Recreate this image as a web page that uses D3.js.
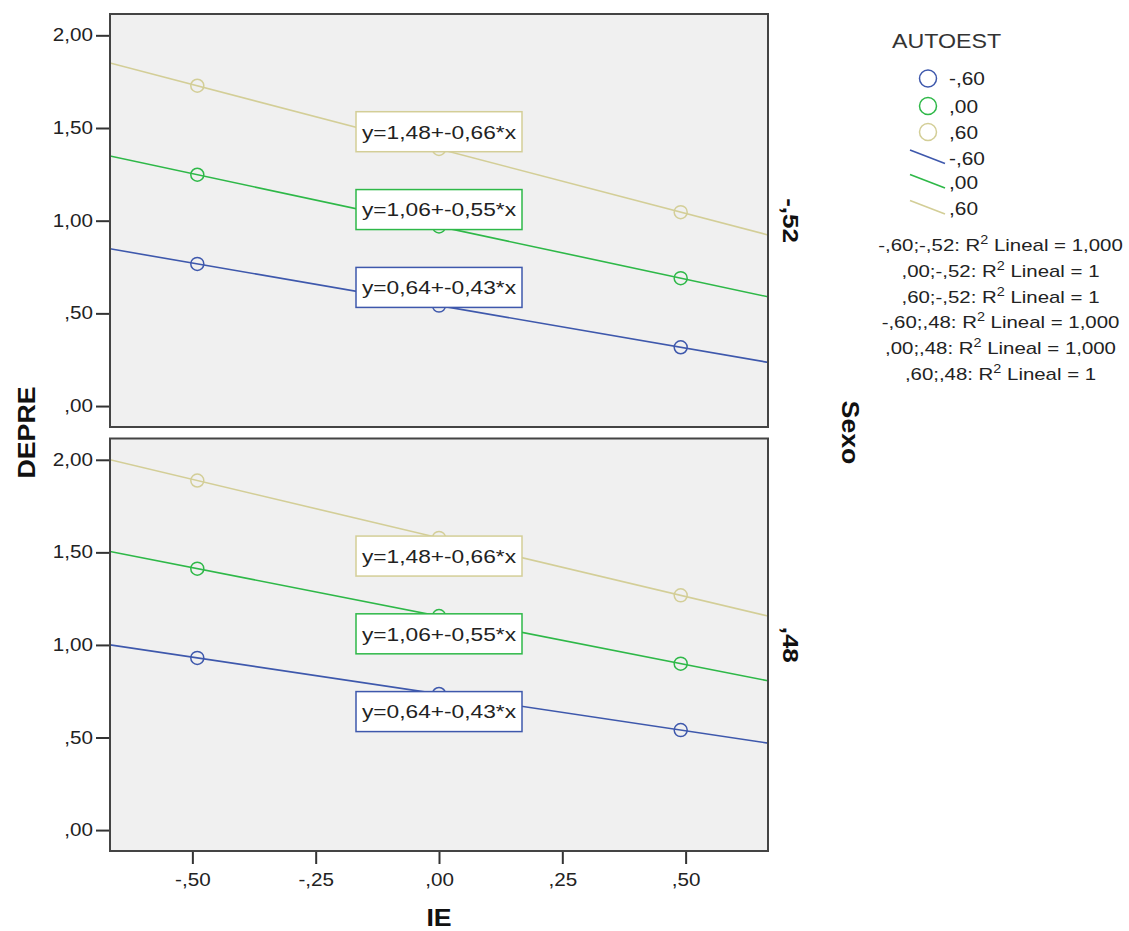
<!DOCTYPE html>
<html>
<head>
<meta charset="utf-8">
<script src="https://cdn.jsdelivr.net/npm/d3@7"></script>
<style>
  html, body { margin: 0; padding: 0; background: #fff; }
  svg { display: block; font-family: "Liberation Sans", Arial, sans-serif; }
</style>
</head>
<body>
<svg id="chart" width="1129" height="931"></svg>
<script>
// ---------- data ----------
const ieValues = [-0.49, 0.00, 0.49];                 // IE (x) values of the points
const autoestLevels = ["-,60", ",00", ",60"];         // AUTOEST groups
const sexoLevels = ["-,52", ",48"];                   // Sexo panels
// DEPRE values per AUTOEST group at each IE value
const depreSexoNeg52 = [
  [0.767, 0.542, 0.317],   // -,60
  [1.248, 0.969, 0.690],   // ,00
  [1.728, 1.387, 1.046]    // ,60
];
const depreSexo48 = [
  [0.930, 0.735, 0.540],
  [1.412, 1.156, 0.899],
  [1.888, 1.578, 1.268]
];
// fit-line equations printed in the chart (pooled)
const eqIntercepts = [0.64, 1.06, 1.48];
const eqSlopes = [-0.43, -0.55, -0.66];
const eqLabels = ["y=0,64+-0,43*x", "y=1,06+-0,55*x", "y=1,48+-0,66*x"];
const r2Labels = [
  ["-,60;-,52: R", "2", " Lineal = 1,000"],
  [",00;-,52: R", "2", " Lineal = 1"],
  [",60;-,52: R", "2", " Lineal = 1"],
  ["-,60;,48: R", "2", " Lineal = 1,000"],
  [",00;,48: R", "2", " Lineal = 1,000"],
  [",60;,48: R", "2", " Lineal = 1"]
];
const yTicks = [0, 0.5, 1.0, 1.5, 2.0];
const xTicks = [-0.5, -0.25, 0, 0.25, 0.5];
const colors = ["#3E58AC", "#2EB848", "#D3CE97"];

// ---------- helpers ----------
function fmt(v) {
  let s = d3.format(".2f")(v).replace("\u2212", "-").replace(".", ",");
  return s.replace(/^(-?)0,/, "$1,");
}
function stretch(sel, k) {
  sel.each(function () {
    const L = this.getComputedTextLength();
    this.setAttribute("textLength", L * k);
    this.setAttribute("lengthAdjust", "spacingAndGlyphs");
  });
}
function fit(xs, ys) {
  const mx = d3.mean(xs), my = d3.mean(ys);
  const b = d3.sum(xs, (x, i) => (x - mx) * (ys[i] - my)) / d3.sum(xs, x => (x - mx) * (x - mx));
  return { a: my - b * mx, b: b };
}

const svg = d3.select("#chart");
const left = 110, right = 768;
const x = d3.scaleLinear().domain([-0.667, 0.667]).range([left, right]);
const panels = [
  { data: depreSexoNeg52, strip: sexoLevels[0], top: 14, bottom: 427 },
  { data: depreSexo48, strip: sexoLevels[1], top: 438.5, bottom: 851 }
];
const yDomain = [-0.113, 2.115];

panels.forEach((p, pi) => {
  const y = d3.scaleLinear().domain(yDomain).range([p.bottom, p.top]);
  const g = svg.append("g");
  g.append("rect").attr("x", left).attr("y", p.top)
    .attr("width", right - left).attr("height", p.bottom - p.top)
    .attr("fill", "#f0f0f0");
  const clipId = "clip" + pi;
  svg.append("clipPath").attr("id", clipId).append("rect")
    .attr("x", left).attr("y", p.top).attr("width", right - left).attr("height", p.bottom - p.top);
  const plot = g.append("g").attr("clip-path", `url(#${clipId})`);

  // fit lines
  p.data.forEach((ys, gi) => {
    const f = fit(ieValues, ys);
    const x0 = x.domain()[0], x1 = x.domain()[1];
    plot.append("line")
      .attr("x1", x(x0)).attr("y1", y(f.a + f.b * x0))
      .attr("x2", x(x1)).attr("y2", y(f.a + f.b * x1))
      .attr("stroke", colors[gi]).attr("stroke-width", 1.6);
  });
  // points
  p.data.forEach((ys, gi) => {
    plot.selectAll(null).data(ys).enter().append("circle")
      .attr("cx", (d, i) => x(ieValues[i])).attr("cy", d => y(d))
      .attr("r", 6.5).attr("fill", "none")
      .attr("stroke", colors[gi]).attr("stroke-width", 1.5);
  });
  // equation boxes
  eqIntercepts.forEach((a, gi) => {
    const cx = x(0), cy = y(a);
    plot.append("rect").attr("x", cx - 83).attr("y", cy - 20)
      .attr("width", 166).attr("height", 40)
      .attr("fill", "#fff").attr("stroke", colors[gi]).attr("stroke-width", 1.5);
    plot.append("text")
      .attr("x", cx - 77).attr("y", cy).attr("dy", "0.36em")
      .attr("font-size", 19).attr("fill", "#222")
      .attr("textLength", 154).attr("lengthAdjust", "spacingAndGlyphs")
      .text(eqLabels[gi]);
  });
  // border
  g.append("rect").attr("x", left).attr("y", p.top)
    .attr("width", right - left).attr("height", p.bottom - p.top)
    .attr("fill", "none").attr("stroke", "#444").attr("stroke-width", 2);

  // y axis
  const ya = g.append("g").attr("transform", `translate(${left - 1},0)`)
    .call(d3.axisLeft(y).tickValues(yTicks).tickFormat(fmt).tickSize(13).tickPadding(3));
  ya.select(".domain").remove();
  ya.selectAll(".tick line").attr("stroke", "#333").attr("stroke-width", 2);
  ya.selectAll(".tick text").attr("class", "tk").attr("font-size", 17.5).attr("fill", "#222")
    .attr("font-family", null);

  // strip label
  g.append("text").attr("class", "strip")
    .attr("transform", `translate(791,${(p.top + p.bottom) / 2}) rotate(90)`)
    .attr("text-anchor", "middle").attr("dy", "0.36em")
    .attr("font-size", 22).attr("font-weight", "bold").attr("fill", "#111")
    .text(p.strip);

  if (pi === 1) {
    const xa = g.append("g").attr("transform", `translate(0,${p.bottom + 1})`)
      .call(d3.axisBottom(x).tickValues(xTicks).tickFormat(fmt).tickSize(12).tickPadding(10));
    xa.select(".domain").remove();
    xa.selectAll(".tick line").attr("stroke", "#333").attr("stroke-width", 2);
    xa.selectAll(".tick text").attr("class", "tk").attr("font-size", 17.5).attr("fill", "#222")
      .attr("font-family", null);
  }
});

// axis titles
svg.append("text").attr("class", "title")
  .attr("transform", "translate(27,432.5) rotate(-90)")
  .attr("text-anchor", "middle").attr("dy", "0.36em")
  .attr("font-size", 23).attr("font-weight", "bold").attr("fill", "#111").text("DEPRE");
svg.append("text").attr("class", "title")
  .attr("x", 439).attr("y", 926).attr("text-anchor", "middle")
  .attr("font-size", 23).attr("font-weight", "bold").attr("fill", "#111").text("IE");
svg.append("text").attr("class", "title")
  .attr("transform", "translate(850,432.5) rotate(90)")
  .attr("text-anchor", "middle").attr("dy", "0.36em")
  .attr("font-size", 23).attr("font-weight", "bold").attr("fill", "#111").text("Sexo");

// legend
const lg = svg.append("g");
lg.append("text").attr("class", "lt").attr("x", 892).attr("y", 48)
  .attr("font-size", 20).attr("fill", "#333").text("AUTOEST");
const circY = [78.5, 106, 132];
autoestLevels.forEach((lab, i) => {
  lg.append("circle").attr("cx", 928).attr("cy", circY[i]).attr("r", 8.5)
    .attr("fill", "none").attr("stroke", colors[i]).attr("stroke-width", 1.5);
  lg.append("text").attr("class", "lt").attr("x", 949).attr("y", circY[i] + 6.5)
    .attr("font-size", 18).attr("fill", "#222").text(lab);
});
const lineY = [150, 174.5, 200.5];
autoestLevels.forEach((lab, i) => {
  lg.append("line").attr("x1", 910).attr("y1", lineY[i]).attr("x2", 945).attr("y2", lineY[i] + 13.5)
    .attr("stroke", colors[i]).attr("stroke-width", 1.6);
  lg.append("text").attr("class", "lt").attr("x", 949).attr("y", lineY[i] + 14.5)
    .attr("font-size", 18).attr("fill", "#222").text(lab);
});
r2Labels.forEach((parts, i) => {
  const t = lg.append("text").attr("class", "r2").attr("x", 1000.5).attr("y", 251 + i * 25.8)
    .attr("text-anchor", "middle").attr("font-size", 17).attr("fill", "#222");
  t.append("tspan").text(parts[0]);
  t.append("tspan").attr("font-size", 12).attr("dy", -7).text(parts[1]);
  t.append("tspan").attr("dy", 7).text(parts[2]);
});

// text width matching
stretch(svg.selectAll("text.tk"), 1.18);
stretch(svg.selectAll("text.strip"), 1.18);
stretch(svg.selectAll("text.title"), 1.16);
stretch(svg.selectAll("text.lt"), 1.16);
stretch(svg.selectAll("text.r2"), 1.2);
</script>
</body>
</html>
